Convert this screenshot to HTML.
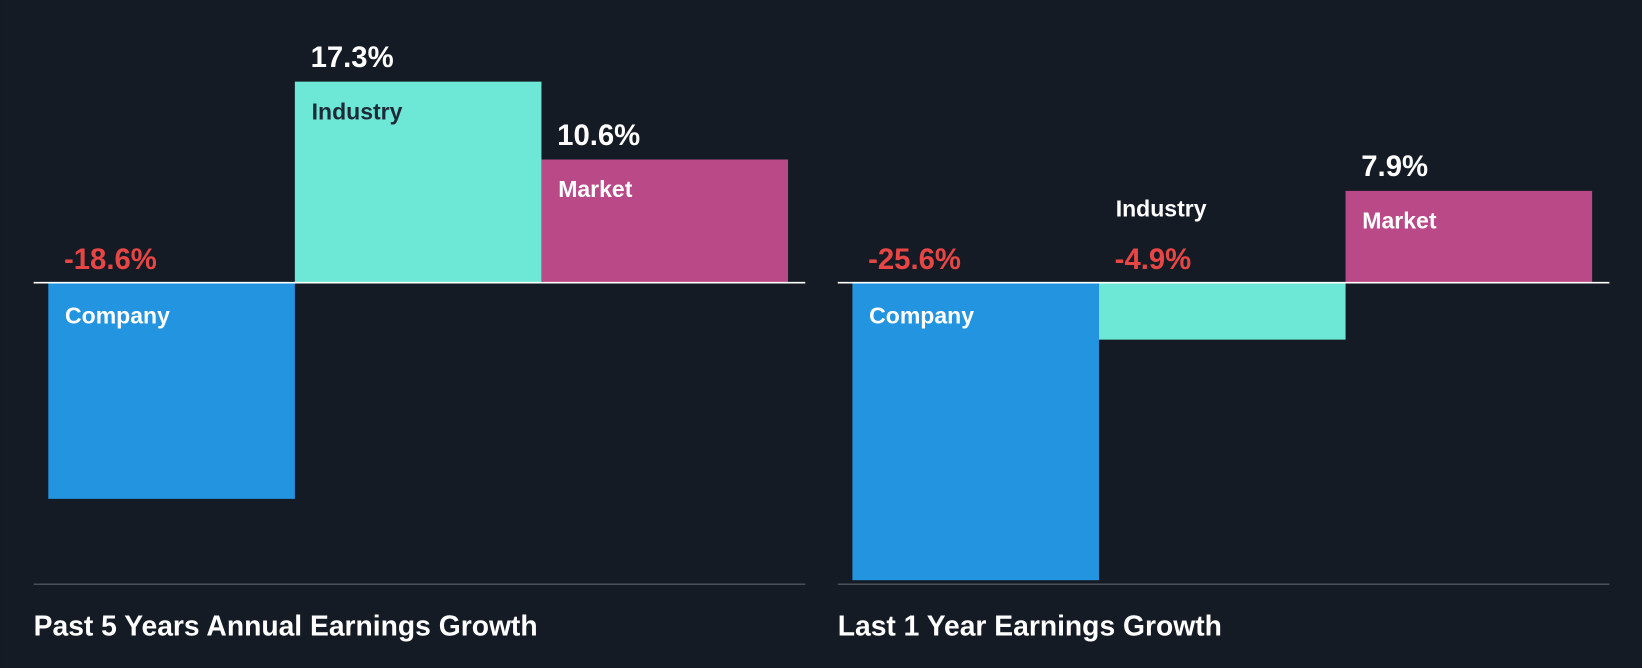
<!DOCTYPE html>
<html><head><meta charset="utf-8"><style>
html,body{margin:0;padding:0;background:#151b24;}
svg{display:block;font-family:"Liberation Sans",sans-serif;font-weight:bold;}
</style></head><body>
<svg width="1642" height="668" viewBox="0 0 1568 638" xmlns="http://www.w3.org/2000/svg">
<rect x="0" y="0" width="1568" height="638" fill="#151b24"/>
<g id="root"></g>
</svg>
<script>
const categories = ["Company", "Industry", "Market"];
const past5Values = [-18.6, 17.3, 10.6];
const last1Values = [-25.6, -4.9, 7.9];
const chartTitles = ["Past 5 Years Annual Earnings Growth", "Last 1 Year Earnings Growth"];
const colors = ["#2394e0", "#6ee8d6", "#b94a87"];
const NS = "http://www.w3.org/2000/svg";
const root = document.getElementById("root");
const baseY = 270, pxPer = 11.1, barW = 235.5;
function y(v){ return baseY - v * pxPer; }
function mk(tag, attrs, text){
  const e = document.createElementNS(NS, tag);
  for (const k in attrs) e.setAttribute(k, attrs[k]);
  if (text !== undefined) e.textContent = text;
  root.appendChild(e);
  return e;
}
function drawChart(values, title, x0, key){
  const ax = mk("line", {x1:x0, x2:x0+737, y1:558, y2:558, stroke:"#4a4f57", "stroke-width":1.5});
  
  
  values.forEach((v, i) => {
    const bx = x0 + 14 + i * barW;
    const top = Math.min(y(v), baseY), h = Math.abs(y(v) - baseY);
    const r = mk("rect", {x:bx, y:top, width:barW, height:h, fill:colors[i]});
    
    
    const valStr = v.toFixed(1) + "%";
    const valCol = v < 0 ? "#e84545" : "#ffffff";
    const nameCol = i === 1 ? "#1e2a38" : "#ffffff";
    let valY, nameY, nameFill = nameCol;
    if (v >= 0) { valY = top - 14; nameY = top + 36; }
    else if (h < 60) { valY = baseY - 13; nameY = baseY - 63; nameFill = "#ffffff"; }
    else { valY = baseY - 13; nameY = baseY + 39; }
    const vt = mk("text", {x:bx + 15, y:valY, fill:valCol, "font-size":28}, valStr);
    
    
    const nt = mk("text", {x:bx + 16, y:nameY, fill:nameFill, "font-size":22}, categories[i]);
    
    
  });
  const zl = mk("line", {x1:x0, x2:x0+737, y1:baseY, y2:baseY, stroke:"#ffffff", "stroke-width":1.5});
  
  
  const t = mk("text", {x:x0, y:607, fill:"#ffffff", "font-size":27}, title);
  
  
}
drawChart(past5Values, chartTitles[0], 32, "past-5-years");
drawChart(last1Values, chartTitles[1], 800, "last-1-year");
</script>
</body></html>
